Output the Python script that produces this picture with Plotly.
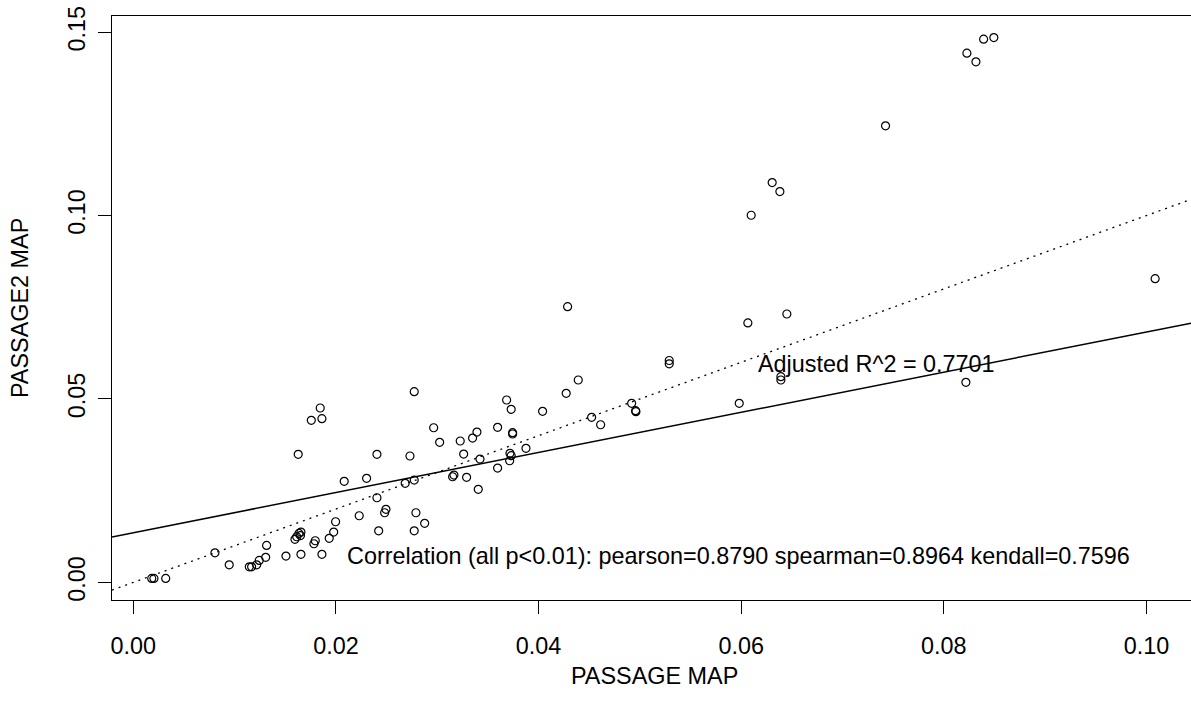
import plotly.graph_objects as go

# PASSAGE MAP (x) vs PASSAGE2 MAP (y)
passage_map = [
    0.00182, 0.00204, 0.00320, 0.00806, 0.00947, 0.01145, 0.01168, 0.01218, 0.01243, 0.01307,
    0.01316, 0.01507, 0.01596, 0.01613, 0.01635, 0.01655, 0.01650, 0.01655, 0.01783, 0.01796,
    0.01862, 0.01934, 0.01978, 0.01997, 0.01628, 0.01757, 0.01845, 0.01862, 0.02082, 0.02230,
    0.02303, 0.02405, 0.02405, 0.02422, 0.02481, 0.02494, 0.02684, 0.02731, 0.02773, 0.02773,
    0.02773, 0.02790, 0.02876, 0.02965, 0.03024, 0.03152, 0.03165, 0.03227, 0.03261, 0.03290,
    0.03349, 0.03392, 0.03405, 0.03422, 0.03596, 0.03596, 0.03685, 0.03715, 0.03718, 0.03730,
    0.03730, 0.03744, 0.03744, 0.03876, 0.04040, 0.04273, 0.04287, 0.04392, 0.04524, 0.04613,
    0.04919, 0.04958, 0.04961, 0.05290, 0.05290, 0.05981, 0.06066, 0.06099, 0.06306, 0.06382,
    0.06392, 0.06392, 0.06451, 0.07425, 0.08218, 0.08228, 0.08317, 0.08393, 0.08494, 0.10086,
]
passage2_map = [
    0.00109, 0.00109, 0.00109, 0.00807, 0.00480, 0.00425, 0.00425, 0.00480, 0.00600, 0.00682,
    0.01009, 0.00717, 0.01173, 0.01244, 0.01336, 0.01372, 0.01276, 0.00764, 0.01053, 0.01135,
    0.00764, 0.01200, 0.01372, 0.01653, 0.03491, 0.04418, 0.04754, 0.04462, 0.02755, 0.01816,
    0.02836, 0.03491, 0.02307, 0.01407, 0.01898, 0.01991, 0.02700, 0.03445, 0.05198, 0.02790,
    0.01407, 0.01898, 0.01609, 0.04216, 0.03818, 0.02880, 0.02926, 0.03854, 0.03499, 0.02864,
    0.03935, 0.04099, 0.02536, 0.03363, 0.04227, 0.03117, 0.04972, 0.03316, 0.03518, 0.03453,
    0.04718, 0.04080, 0.04045, 0.03655, 0.04664, 0.05155, 0.07516, 0.05517, 0.04500, 0.04298,
    0.04882, 0.04680, 0.04653, 0.06049, 0.05959, 0.04882, 0.07072, 0.10009, 0.10898, 0.10653,
    0.05607, 0.05517, 0.07317, 0.12445, 0.05455, 0.14427, 0.14190, 0.14809, 0.14853, 0.08280,
]

# fitted line (solid) and reference line y = x (dotted): [intercept, slope]
fit_line = [0.01355, 0.547]
identity_line = [0.0, 1.0]

x_ticks = [0.00, 0.02, 0.04, 0.06, 0.08, 0.10]
x_tick_labels = ["0.00", "0.02", "0.04", "0.06", "0.08", "0.10"]
y_ticks = [0.00, 0.05, 0.10, 0.15]
y_tick_labels = ["0.00", "0.05", "0.10", "0.15"]

X_RANGE = [-0.0021, 0.1044]
Y_RANGE = [-0.0048, 0.1544]

r2_text = "Adjusted R^2 = 0.7701"
r2_pos = [0.0734, 0.0595]
corr_text = "Correlation (all p<0.01): pearson=0.8790 spearman=0.8964 kendall=0.7596"
corr_pos = [0.0597, 0.0072]

FONT = "Liberation Sans, Arial, Helvetica, sans-serif"
FS = 23.4

fig = go.Figure()

fig.add_trace(go.Scatter(
    x=passage_map, y=passage2_map, mode="markers",
    marker=dict(symbol="circle-open", size=8, color="black", line=dict(width=1.2, color="black")),
    showlegend=False, hoverinfo="x+y",
))

for (b0, b1), dash, w in [(fit_line, "solid", 1.5), (identity_line, "2px,5px", 1.3)]:
    fig.add_trace(go.Scatter(
        x=X_RANGE, y=[b0 + b1 * X_RANGE[0], b0 + b1 * X_RANGE[1]],
        mode="lines", line=dict(color="black", width=w, dash=dash),
        showlegend=False, hoverinfo="skip",
    ))

fig.add_annotation(x=r2_pos[0], y=r2_pos[1], text=r2_text, showarrow=False,
                   xanchor="center", yanchor="middle", font=dict(family=FONT, size=FS, color="black"))
fig.add_annotation(x=corr_pos[0], y=corr_pos[1], text=corr_text, showarrow=False,
                   xanchor="center", yanchor="middle", font=dict(family=FONT, size=FS, color="black"))

# axis titles
fig.add_annotation(x=0.5, y=0, xref="paper", yref="paper", text="PASSAGE MAP", showarrow=False,
                   xanchor="center", yanchor="middle", xshift=3, yshift=-76,
                   font=dict(family=FONT, size=FS, color="black"))
fig.add_annotation(x=0, y=0.5, xref="paper", yref="paper", text="PASSAGE2 MAP", showarrow=False,
                   xanchor="center", yanchor="middle", xshift=-92, textangle=-90,
                   font=dict(family=FONT, size=FS, color="black"))

fig.update_layout(
    width=1191, height=710,
    margin=dict(l=112, r=0, t=16, b=110),
    paper_bgcolor="white", plot_bgcolor="white",
    font=dict(family=FONT, size=FS, color="black"),
    showlegend=False,
)
fig.update_xaxes(
    range=X_RANGE, tickvals=x_ticks, ticktext=x_tick_labels,
    showgrid=False, zeroline=False, showline=True, mirror=True, linecolor="black", linewidth=1.3,
    ticks="outside", ticklen=13, tickwidth=1.3, tickcolor="black", ticklabelstandoff=12,
    tickfont=dict(family=FONT, size=FS, color="black"),
)
fig.update_yaxes(
    range=Y_RANGE, tickvals=y_ticks, ticktext=y_tick_labels, tickangle=-90,
    showgrid=False, zeroline=False, showline=True, mirror=False, linecolor="black", linewidth=1.3,
    ticks="outside", ticklen=13, tickwidth=1.3, tickcolor="black", ticklabelstandoff=4,
    tickfont=dict(family=FONT, size=FS, color="black"),
)

fig.write_html("out.html")
